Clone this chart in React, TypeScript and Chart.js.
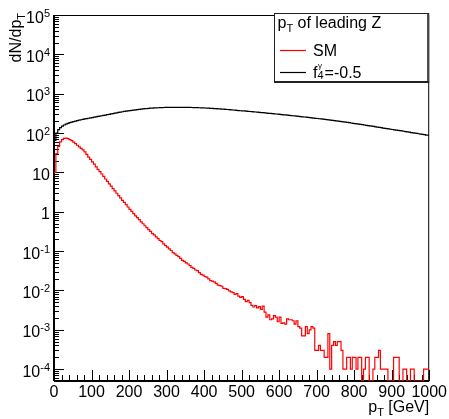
import React, { useEffect, useRef } from "react";
import { Chart, registerables } from "chart.js";

Chart.register(...registerables);

const FONT = "'Liberation Sans', Arial, Helvetica, sans-serif";

// ---- axes ----
const BIN_WIDTH = 5; // GeV
const X_MIN = 0;
const X_MAX = 1000;
const X_MAJOR = 100;
const X_MINOR = 20;
const Y_MIN = 5e-5;
const Y_MAX = 1e5;
const Y_LABEL_EXPONENTS = [-4, -3, -2, -1, 0, 1, 2, 3, 4, 5];

// ---- series: dN/dpT per 5 GeV bin, from 0 to 1000 GeV ----
const smValues = [
  10, 30, 46, 60, 68, 73, 74, 72, 68, 64,
  59, 53.7, 49, 44.7, 40.7, 37.2, 33.1, 28.8, 24.5, 21.4,
  18.6, 16.2, 13.8, 12.0, 10.5, 9.1, 7.9, 6.8, 5.9, 5.1,
  4.47, 3.89, 3.39, 2.95, 2.57, 2.24, 1.95, 1.74, 1.51, 1.32,
  1.15, 1.02, 0.9, 0.79, 0.71, 0.63, 0.556, 0.495, 0.441, 0.394,
  0.351, 0.316, 0.279, 0.257, 0.229, 0.207, 0.186, 0.174, 0.153, 0.138,
  0.126, 0.1135, 0.1035, 0.091, 0.0851, 0.0776, 0.0722, 0.0653, 0.058, 0.055,
  0.0501, 0.047, 0.0427, 0.0385, 0.0363, 0.0331, 0.0318, 0.0285, 0.0255, 0.0245,
  0.0226, 0.0218, 0.0197, 0.0178, 0.0172, 0.0165, 0.0151, 0.0136, 0.0133, 0.0128,
  0.0113, 0.0111, 0.0107, 0.0098, 0.0092, 0.0088, 0.0079, 0.0083, 0.0072, 0.0067,
  0.007, 0.0059, 0.0052, 0.0056, 0.0049, 0.0042, 0.0038, 0.0041, 0.0036, 0.0039,
  0.0033, 0.004, 0.0028, 0.0021, 0.0024, 0.0018, 0.0019, 0.0023, 0.0021, 0.0016,
  0.0021, 0.00145, 0.0015, 0.0014, 0.0019, 0.0018, 0.0018, 0.0017, 0.0014, 0.0017,
  0.0012, 0.0011, 0.0007, 0.0007, 0.0012, 0.0008, 0.001, 0.0012, 0.0011, 0.0003,
  0.0003, 0.0004, 0.0003, 0.0003, 0.0002, 0.0002, 0.0008, 0.0001, 0.0004, 0.0005,
  0.0004, 0.0005, 0.0005, 0.0003, 0.0001, 0.0001, 0.0002, 0.0002, 0.0001, 0.0002,
  0.0002, 0.0001, 0.0002, 0.0002, 0, 0.0001, 0.0002, 0.0002, 0, 0,
  0.0001, 0.0002, 0.0002, 0.0003, 0.0001, 0.0001, 0.0001, 0.0001, 0, 0,
  0, 0.0002, 0.0002, 0.0002, 0, 0, 0.0001, 0.0001, 0, 0,
  0.0001, 0.0001, 0, 0, 0, 0, 0, 0.0001, 0.0001, 0.0001,
];

const f4Values = [
  65, 100, 122, 138, 150, 160, 168, 176, 183, 190,
  196, 202, 208, 213, 218, 223, 228, 233, 238, 243,
  248, 253, 258, 264, 269, 275, 281, 287, 293, 299,
  306, 313, 320, 327, 334, 341, 348, 354, 360, 366,
  372, 378, 384, 390, 396, 401, 406, 411, 416, 420,
  424, 428, 431, 434, 437, 440, 442, 444, 446, 447,
  448, 449, 450, 450, 451, 451, 451, 451, 450, 450,
  449, 448, 447, 446, 445, 443, 441, 439, 437, 435,
  433, 430, 428, 425, 422, 419, 416, 413, 410, 407,
  404, 400, 397, 393, 389, 385, 381, 377, 373, 369,
  367, 364, 360, 357, 353, 350, 346, 343, 339, 336,
  332, 329, 325, 322, 318, 315, 312, 308, 305, 301,
  298, 295, 291, 288, 285, 281, 278, 275, 272, 268,
  265, 262, 259, 256, 253, 250, 246, 243, 240, 237,
  234, 231, 228, 225, 222, 219, 216, 213, 210, 207,
  204, 201, 198, 195, 192, 189, 186, 183, 180, 177,
  174, 171, 168, 166, 163, 160, 157, 155, 152, 150,
  147, 144, 142, 139, 137, 134, 132, 130, 127, 125,
  123, 121, 119, 117, 115, 113, 111, 109, 107, 105,
  103, 101, 99, 98, 96, 94, 93, 91, 89, 88,
];

const SERIES_COLORS = ["#ff0000", "#000000"];

type Run = { t: string; s: number; dy?: number; dx?: number; adv?: boolean };

function runsWidth(ctx: CanvasRenderingContext2D, runs: Run[]) {
  let w = 0;
  for (const r of runs) {
    ctx.font = `${r.s}px ${FONT}`;
    if (r.adv !== false) w += ctx.measureText(r.t).width + (r.dx || 0);
  }
  return w;
}

function drawRuns(ctx: CanvasRenderingContext2D, runs: Run[], x: number, y: number, align: "left" | "right" = "left") {
  let cx = align === "right" ? x - runsWidth(ctx, runs) : x;
  ctx.textAlign = "left";
  ctx.textBaseline = "alphabetic";
  for (const r of runs) {
    ctx.font = `${r.s}px ${FONT}`;
    ctx.fillText(r.t, cx + (r.dx || 0), y + (r.dy || 0));
    if (r.adv !== false) cx += ctx.measureText(r.t).width + (r.dx || 0);
  }
}

function toSteps(values: number[]) {
  const pts = values.map((v, i) => ({ x: X_MIN + i * BIN_WIDTH, y: v > 0 ? v : Y_MIN }));
  const last = values[values.length - 1];
  pts.push({ x: X_MIN + values.length * BIN_WIDTH, y: last > 0 ? last : Y_MIN });
  return pts;
}

const rootStyle = {
  id: "rootStyle",
  beforeDatasetsDraw(chart: any) {
    const { ctx, chartArea: a, scales } = chart;
    const xs = scales.x;
    const ys = scales.y;
    ctx.save();
    ctx.strokeStyle = "#000";
    ctx.lineWidth = 1;
    ctx.beginPath();
    // x ticks (inside)
    for (let v = X_MIN; v <= X_MAX; v += X_MINOR) {
      const px = Math.round(xs.getPixelForValue(v)) + 0.5;
      const len = v % X_MAJOR === 0 ? 11 : 6;
      ctx.moveTo(px, a.bottom);
      ctx.lineTo(px, a.bottom - len);
    }
    // y ticks (inside)
    for (let e = -5; e <= 5; e++) {
      for (let m = 1; m <= 9; m++) {
        const v = m * Math.pow(10, e);
        if (v < Y_MIN || v > Y_MAX * 1.0001) continue;
        const py = Math.round(ys.getPixelForValue(v)) + 0.5;
        const len = m === 1 ? 10 : 5;
        ctx.moveTo(a.left, py);
        ctx.lineTo(a.left + len, py);
      }
    }
    ctx.stroke();
    // frame
    ctx.strokeRect(a.left + 0.5, a.top + 0.5, a.right - a.left - 1, a.bottom - a.top - 1);
    ctx.beginPath();
    ctx.moveTo(a.left - 0.5, a.top);
    ctx.lineTo(a.left - 0.5, a.bottom);
    ctx.moveTo(a.left, a.bottom + 0.5);
    ctx.lineTo(a.right, a.bottom + 0.5);
    ctx.stroke();

    // y labels
    ctx.fillStyle = "#000";
    for (const e of Y_LABEL_EXPONENTS) {
      const py = ys.getPixelForValue(Math.pow(10, e));
      let runs: Run[];
      if (e === 0) runs = [{ t: "1", s: 16 }];
      else if (e === 1) runs = [{ t: "10", s: 16 }];
      else runs = [{ t: "10", s: 16 }, { t: String(e), s: 11, dy: -6 }];
      drawRuns(ctx, runs, a.left - 4, py + 7.5, "right");
    }

    // axis titles
    drawRuns(ctx, [{ t: "p", s: 16 }, { t: "T", s: 11, dy: 4 }, { t: " [GeV]", s: 16 }], a.right, 412, "right");
    ctx.save();
    ctx.translate(21, a.top - 2);
    ctx.rotate(-Math.PI / 2);
    drawRuns(ctx, [{ t: "dN/dp", s: 16 }, { t: "T", s: 11, dy: 4 }], 0, 0, "right");
    ctx.restore();
    ctx.restore();
  },
  afterDatasetsDraw(chart: any) {
    const { ctx, chartArea: a } = chart;
    ctx.save();
    const L = 274, T = a.top - 2, R = a.right, B = 83;
    ctx.fillStyle = "#fff";
    ctx.fillRect(L, T, R - L, B - T);
    ctx.strokeStyle = "#222";
    ctx.lineWidth = 1;
    ctx.strokeRect(L + 0.5, T + 0.5, R - L - 1, B - T - 1);
    ctx.beginPath();
    ctx.moveTo(R - 1.5, T + 1);
    ctx.lineTo(R - 1.5, B);
    ctx.moveTo(L + 1, B - 1.5);
    ctx.lineTo(R, B - 1.5);
    ctx.stroke();
    ctx.fillStyle = "#000";
    drawRuns(ctx, [{ t: "p", s: 16 }, { t: "T", s: 11, dy: 4 }, { t: " of leading Z", s: 16 }], L + 3.5, 28);
    const entries = [
      { y: 50.5, color: SERIES_COLORS[0], runs: [{ t: "SM", s: 16 }] as Run[] },
      {
        y: 72.5,
        color: SERIES_COLORS[1],
        runs: [
          { t: "f", s: 16 },
          { t: "γ", s: 8, dy: -10, dx: 0.5, adv: false },
          { t: "4", s: 11, dy: 1 },
          { t: "=-0.5", s: 16, dx: 1 },
        ] as Run[],
      },
    ];
    for (const en of entries) {
      ctx.strokeStyle = en.color;
      ctx.lineWidth = 1.2;
      ctx.beginPath();
      ctx.moveTo(L + 6, en.y);
      ctx.lineTo(L + 32, en.y);
      ctx.stroke();
      drawRuns(ctx, en.runs, L + 39, en.y + 5.5);
    }
    ctx.restore();
  },
};

export default function App() {
  const ref = useRef<HTMLCanvasElement>(null);
  useEffect(() => {
    if (!ref.current) return;
    const chart = new Chart(ref.current, {
      type: "line",
      data: {
        datasets: [
          {
            label: "SM",
            data: toSteps(smValues),
            borderColor: SERIES_COLORS[0],
            borderWidth: 1.2,
            stepped: "before",
            pointRadius: 0,
            fill: false,
          },
          {
            label: "f4 = -0.5",
            data: toSteps(f4Values),
            borderColor: SERIES_COLORS[1],
            borderWidth: 1.2,
            stepped: "before",
            pointRadius: 0,
            fill: false,
          },
        ],
      },
      options: {
        animation: false,
        responsive: false,
        devicePixelRatio: 1,
        layout: { padding: { top: 15, right: 19, left: 0, bottom: 0 } },
        plugins: { legend: { display: false }, tooltip: { enabled: false } },
        scales: {
          x: {
            type: "linear",
            min: X_MIN,
            max: X_MAX,
            afterFit: (s: any) => {
              s.height = 38;
            },
            grid: { display: false, drawTicks: false },
            border: { display: false },
            ticks: {
              stepSize: X_MAJOR,
              autoSkip: false,
              maxRotation: 0,
              padding: 2,
              color: "#000",
              font: { family: FONT, size: 16 },
              callback: (v: any) => String(v),
            },
          },
          y: {
            type: "logarithmic",
            min: Y_MIN,
            max: Y_MAX,
            afterFit: (s: any) => {
              s.width = 54;
            },
            grid: { display: false, drawTicks: false },
            border: { display: false },
            ticks: { display: false },
          },
        },
      } as any,
      plugins: [rootStyle],
    });
    return () => chart.destroy();
  }, []);
  return (
    <div style={{ position: "absolute", left: 0, top: 0, width: 449, height: 419, background: "#fff" }}>
      <canvas ref={ref} width={449} height={419} style={{ display: "block" }} />
    </div>
  );
}
